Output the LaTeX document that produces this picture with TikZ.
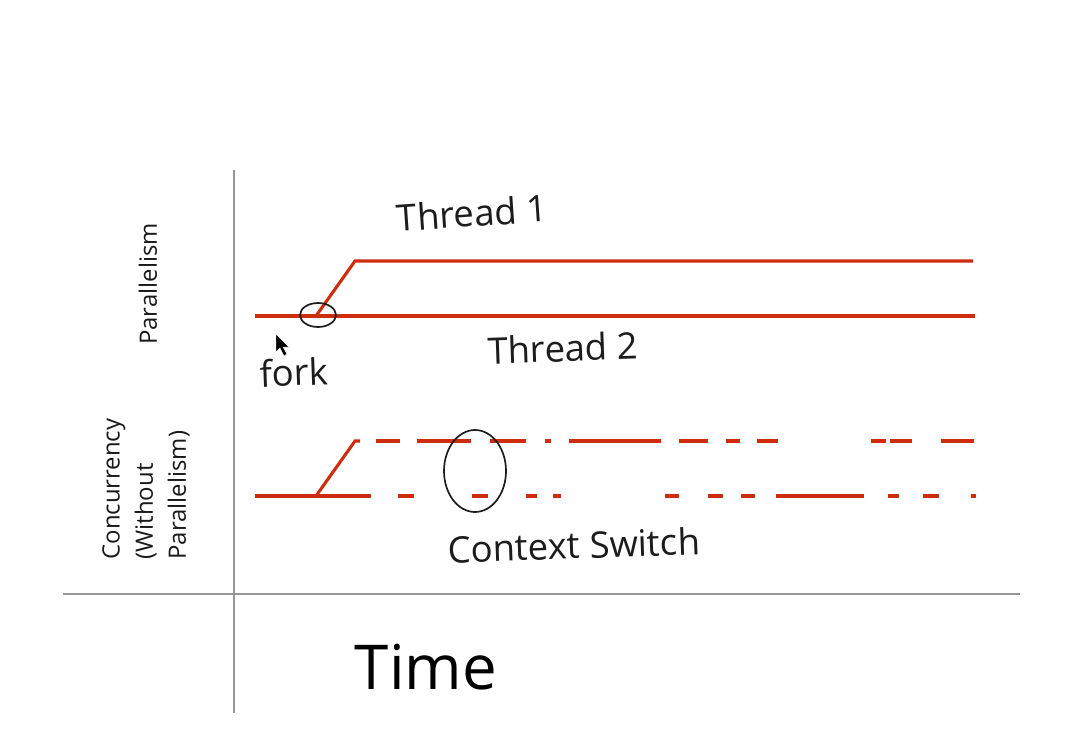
\documentclass[tikz,border=0pt]{standalone}
\usepackage{fontspec}
\setmainfont{Open Sans}
\usepackage{xcolor}
\usepackage{tikz}
\usetikzlibrary{
  positioning,
  calc
}
\definecolor{threadred}{RGB}{205, 45, 12}
\definecolor{axisgray}{RGB}{150, 150, 150}
\definecolor{inkblack}{RGB}{28, 28, 28}
\tikzset{
  thread/.style   = {draw=threadred, line width=2.2pt},
  axisline/.style = {draw=axisgray, line width=1pt},
  ink/.style      = {draw=inkblack, line width=1.2pt},
  axislbl/.style  = {
    rotate=90, align=left, inner sep=0pt, text=black!90,
    font=\fontsize{17}{23.5}\selectfont
  },
  hand/.style = {
    inner sep=0pt, text=inkblack,
    font=\fontsize{26}{30}\selectfont
  },
  bigtime/.style = {inner sep=0pt, font=\fontsize{44}{50}\selectfont},
}

\begin{document}
\begin{tikzpicture}[x=0.025cm, y=-0.025cm]

  \useasboundingbox (0,0) rectangle (1088,750);

  %% ── Axes ────────────────────────────────────────────────────────────────
  \coordinate (vtop)   at (234,170);
  \coordinate (vbot)   at (234,713);
  \coordinate (hleft)  at (63,594);
  \coordinate (hright) at (1020,594);
  \draw[axisline] (vtop) -- (vbot);
  \draw[axisline] (hleft) -- (hright);

  \node[axislbl] (par_lbl) at (148,284) {Parallelism};
  \node[axislbl] (conc_lbl) at (146,489)
    {Concurrency\\(Without\\Parallelism)};
  \node[bigtime] (time_lbl) at (426,667) {Time};

  %% ── Parallelism: two threads ───────────────────────────────────────────
  \coordinate (p_start) at (255,316);
  \coordinate (p_fork)  at (316,316);
  \coordinate (p_up)    at (355,261);
  \coordinate (p_end1)  at (973,261);
  \coordinate (p_end2)  at (975,316);
  \draw[thread] (p_start) -- (p_end2);
  \draw[thread] (p_fork) -- (p_up) -- (p_end1);

  \node[hand, rotate=4] (t1_lbl) at (472,213) {Thread 1};
  \node[hand, rotate=2] (t2_lbl) at (563,348) {Thread 2};
  \node[hand, rotate=2] (fork_lbl) at (294,372) {fork};
  \draw[ink] (p_fork) ++(2,-1) ellipse [x radius=18, y radius=12];

  % mouse pointer
  \fill[black, draw=white, line width=0.3pt]
    (276,334) -- (276,352) -- (280,348) -- (284,356) -- (287,354)
    -- (283,347) -- (289,347) -- cycle;

  %% ── Concurrency without parallelism ────────────────────────────────────
  \coordinate (c_start) at (255,496);
  \coordinate (c_fork)  at (316,496);
  \coordinate (c_cut)   at (371,496);
  \coordinate (c_up)    at (355,441);
  \coordinate (c_hook)  at (360,441);
  \draw[thread] (c_start) -- (c_cut);
  \draw[thread] (c_fork) -- (c_up) -- (c_hook);

  % thread 1 slices
  \foreach \a/\b in {376/400, 417/471, 490/526, 545/551, 569/661, 679/708,
                     726/740, 757/778, 871/886, 890/912, 941/974}
    \draw[thread] (\a,441) -- (\b,441);
  % thread 2 slices
  \foreach \a/\b in {398/414, 472/488, 526/537, 553/561, 665/679, 708/723,
                     741/755, 776/864, 888/899, 923/939, 971/976}
    \draw[thread] (\a,496) -- (\b,496);

  \coordinate (cs_mid) at (475,471);
  \draw[ink] (cs_mid) ellipse [x radius=31, y radius=41];
  \node[hand, rotate=2] (cs_lbl) at (574,545) {Context Switch};

\end{tikzpicture}
\end{document}
